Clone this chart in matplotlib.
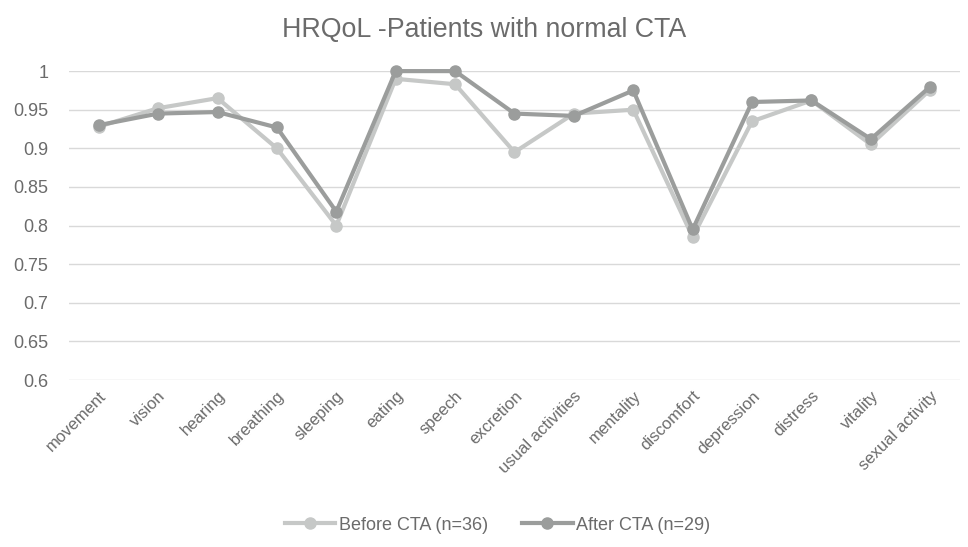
import numpy as np
import matplotlib.pyplot as plt

plt.rcParams['font.family'] = ['Liberation Sans', 'DejaVu Sans']

categories = ["movement", "vision", "hearing", "breathing", "sleeping", "eating", "speech",
              "excretion", "usual activities", "mentality", "discomfort", "depression",
              "distress", "vitality", "sexual activity"]
before = [0.928, 0.952, 0.965, 0.900, 0.800, 0.990, 0.983, 0.895, 0.945, 0.950,
          0.785, 0.935, 0.962, 0.905, 0.976]
after = [0.930, 0.945, 0.947, 0.927, 0.818, 1.000, 1.000, 0.945, 0.942, 0.975,
         0.795, 0.960, 0.962, 0.912, 0.980]
yticks = [0.6, 0.65, 0.7, 0.75, 0.8, 0.85, 0.9, 0.95, 1.0]
yticklabels = ["0.6", "0.65", "0.7", "0.75", "0.8", "0.85", "0.9", "0.95", "1"]

txt = "#6b6b6b"

fig = plt.figure(figsize=(9.68, 5.47), dpi=100)
ax = fig.add_axes([0.0713, 0.3053, 0.9204, 0.5647])

x = np.arange(len(categories))
ax.plot(x, before, color="#c6c8c7", lw=3, marker="o", ms=8, label="Before CTA (n=36)", clip_on=False, zorder=3)
ax.plot(x, after, color="#9b9d9c", lw=3, marker="o", ms=8, label="After CTA (n=29)", clip_on=False, zorder=4)

ax.set_xlim(-0.5, len(categories) - 0.5)
ax.set_ylim(0.6, 1.0)
ax.set_yticks(yticks)
ax.set_yticklabels(yticklabels)
ax.set_xticks(x)
ax.set_xticklabels(categories, rotation=45, ha="right", rotation_mode="anchor")
ax.tick_params(length=0, colors=txt)
ax.tick_params(axis="y", pad=15, labelsize=13)
ax.tick_params(axis="x", pad=6, labelsize=12)
ax.grid(axis="y", color="#d9d9d9", lw=1)
ax.set_axisbelow(True)
for s in ax.spines.values():
    s.set_visible(False)

fig.text(0.5, 0.945, "HRQoL -Patients with normal CTA", fontsize=19.3, color=txt,
         ha="center", va="center")
fig.legend(loc="center", bbox_to_anchor=(0.514, 0.04), ncol=2, frameon=False,
           fontsize=13, labelcolor=txt, handlelength=2.8, columnspacing=1.9, handletextpad=0.2)

fig.savefig("out.png", dpi=100)
